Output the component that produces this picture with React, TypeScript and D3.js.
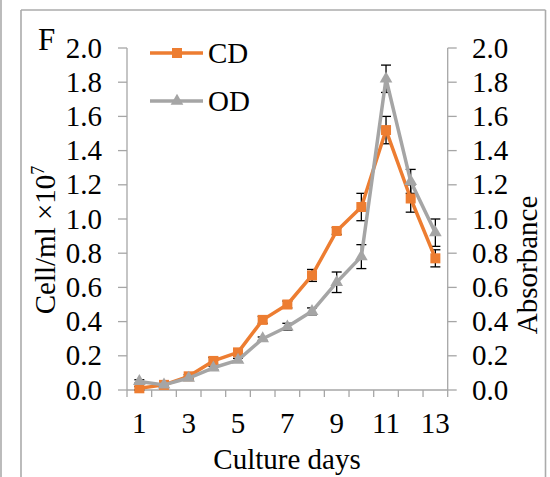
import React from "react";
import * as d3 from "d3";

const days = [1, 2, 3, 4, 5, 6, 7, 8, 9, 10, 11, 12, 13];
const dayLabels = ["1", "", "3", "", "5", "", "7", "", "9", "", "11", "", "13"];
const cdValues = [0.01, 0.03, 0.08, 0.17, 0.22, 0.41, 0.5, 0.67, 0.93, 1.07, 1.52, 1.12, 0.77];
const cdErrors = [0.01, 0.01, 0.01, 0.02, 0.02, 0.02, 0.02, 0.035, 0.02, 0.08, 0.08, 0.08, 0.05];
const odValues = [0.05, 0.03, 0.07, 0.13, 0.175, 0.3, 0.37, 0.46, 0.63, 0.78, 1.82, 1.22, 0.92];
const odErrors = [0.01, 0.01, 0.01, 0.01, 0.01, 0.01, 0.02, 0.02, 0.06, 0.07, 0.08, 0.07, 0.08];
const yTicks = [0, 0.2, 0.4, 0.6, 0.8, 1.0, 1.2, 1.4, 1.6, 1.8, 2.0];
const seriesNames = ["CD", "OD"];

const W = 550;
const H = 477;
const FONT = "'Liberation Serif', 'Times New Roman', serif";
const AXIS = "#a6a6a6";
const ORANGE = "#ED7D31";
const GRAY = "#A5A5A5";

export default function App() {
  const x = d3.scaleBand<number>().domain(days).range([127, 447.7]);
  const y = d3.scaleLinear().domain([0, 2]).range([390, 48]);
  const cx = (d: number) => (x(d) as number) + x.bandwidth() / 2;

  const line = d3
    .line<number>()
    .x((_, i) => cx(days[i]))
    .y((v) => y(v));

  const boundaries = days.map((d) => x(d) as number).concat([447.7]);
  const fs = 29;

  const tri = d3.symbol().type(d3.symbolTriangle).size(70)();

  const errBars = (vals: number[], errs: number[], key: string) =>
    vals.map((v, i) => {
      const xx = cx(days[i]);
      const y1 = y(v + errs[i]);
      const y2 = y(v - errs[i]);
      return (
        <g key={key + i} stroke="#000" strokeWidth={1.3}>
          <line x1={xx} x2={xx} y1={y1} y2={y2} />
          <line x1={xx - 5} x2={xx + 5} y1={y1} y2={y1} />
          <line x1={xx - 5} x2={xx + 5} y1={y2} y2={y2} />
        </g>
      );
    });

  return (
    <svg
      width={W}
      height={H}
      style={{ position: "absolute", left: 0, top: 0, background: "#fff" }}
      fontFamily={FONT}
    >
      <rect x={0} y={0} width={W} height={H} fill="#fff" />
      {/* frame */}
      <g stroke="#ababab" strokeWidth={1.6} fill="none">
        <line x1={1} x2={1} y1={0} y2={H} />
        <line x1={21} x2={21} y1={10} y2={H} />
        <line x1={21} x2={545.5} y1={10} y2={10} />
        <line x1={545.5} x2={545.5} y1={10} y2={H} />
      </g>

      {/* axes */}
      <g stroke={AXIS} strokeWidth={1.3}>
        <line x1={127} x2={127} y1={y(0)} y2={y(2)} />
        {yTicks.map((t) => (
          <line key={"lt" + t} x1={118} x2={127} y1={y(t)} y2={y(t)} />
        ))}
        <line x1={447.7} x2={447.7} y1={y(0)} y2={y(2)} />
        {yTicks.map((t) => (
          <line key={"rt" + t} x1={447.7} x2={456.7} y1={y(t)} y2={y(t)} />
        ))}
        <line x1={127} x2={447.7} y1={y(0)} y2={y(0)} />
        {boundaries.map((b, i) => (
          <line key={"xt" + i} x1={b} x2={b} y1={y(0)} y2={y(0) + 7} />
        ))}
      </g>

      {/* tick labels */}
      <g fontSize={fs} fill="#000">
        {yTicks.map((t) => (
          <text key={"ll" + t} x={102} y={y(t)} dy="0.33em" textAnchor="end">
            {t.toFixed(1)}
          </text>
        ))}
        {yTicks.map((t) => (
          <text key={"rl" + t} x={472} y={y(t)} dy="0.33em" textAnchor="start">
            {t.toFixed(1)}
          </text>
        ))}
        {days.map((d, i) => (
          <text key={"xl" + d} x={cx(d)} y={433} textAnchor="middle">
            {dayLabels[i]}
          </text>
        ))}
      </g>

      {/* axis titles */}
      <text x={287} y={469} fontSize={fs} textAnchor="middle">
        Culture days
      </text>
      <text
        transform={`translate(55,240) rotate(-90)`}
        fontSize={fs}
        textAnchor="middle"
      >
        Cell/ml ×10
        <tspan fontSize={18} dy={-11}>7</tspan>
      </text>
      <text
        transform={`translate(537,265) rotate(-90)`}
        fontSize={fs}
        textAnchor="middle"
      >
        Absorbance
      </text>
      <text x={38} y={50} fontSize={31}>
        F
      </text>

      {/* series */}
      {errBars(cdValues, cdErrors, "ce")}
      {errBars(odValues, odErrors, "oe")}
      <path d={line(cdValues) || ""} fill="none" stroke={ORANGE} strokeWidth={3.5} strokeLinejoin="round" />
      {cdValues.map((v, i) => (
        <rect key={"cm" + i} x={cx(days[i]) - 5} y={y(v) - 5} width={10} height={10} fill={ORANGE} />
      ))}
      <path d={line(odValues) || ""} fill="none" stroke={GRAY} strokeWidth={3.5} strokeLinejoin="round" />
      {odValues.map((v, i) => (
        <path key={"om" + i} d={tri || ""} transform={`translate(${cx(days[i])},${y(v)})`} fill={GRAY} />
      ))}

      {/* legend */}
      <g>
        <line x1={150} x2={203} y1={53} y2={53} stroke={ORANGE} strokeWidth={3.5} />
        <rect x={172} y={48} width={10} height={10} fill={ORANGE} />
        <text x={208} y={53} dy="0.33em" fontSize={fs}>
          {seriesNames[0]}
        </text>
        <line x1={150} x2={203} y1={101} y2={101} stroke={GRAY} strokeWidth={3.5} />
        <path d={tri || ""} transform="translate(177,101)" fill={GRAY} />
        <text x={208} y={101} dy="0.33em" fontSize={fs}>
          {seriesNames[1]}
        </text>
      </g>
    </svg>
  );
}
